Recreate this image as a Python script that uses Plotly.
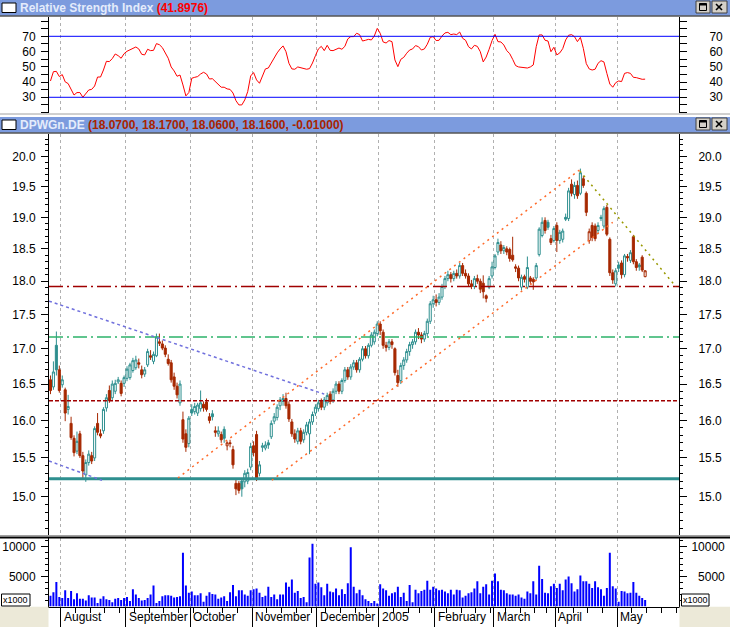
import plotly.graph_objects as go

# ---------------- data ----------------
OPEN = [16.56,16.46,17.05,16.70,16.49,16.42,16.15,15.96,15.76,15.59,
        15.82,15.53,15.28,15.44,15.53,15.50,15.96,15.82,15.86,16.17,
        16.41,16.31,16.40,16.53,16.51,16.51,16.58,16.59,16.69,16.73,
        16.80,16.70,16.64,16.77,16.90,16.82,16.90,17.10,17.07,17.01,
        16.85,16.80,16.60,16.47,16.24,16.01,15.82,15.69,16.15,16.12,
        16.10,16.16,16.22,16.25,16.05,16.09,15.86,15.82,15.81,15.88,
        15.66,15.70,15.61,15.17,15.17,15.20,15.19,15.20,15.38,15.66,
        15.81,15.30,15.64,15.63,15.70,15.78,15.99,16.04,16.20,16.26,
        16.30,16.22,15.98,15.82,15.72,15.86,15.74,15.84,15.82,15.98,
        16.10,16.16,16.26,16.18,16.24,16.36,16.28,16.40,16.50,16.40,
        16.55,16.70,16.60,16.74,16.80,16.70,16.85,17.00,16.90,17.05,
        17.10,17.22,17.36,17.24,17.05,17.02,17.10,17.00,16.62,16.55,
        16.76,16.84,16.96,17.06,17.10,17.24,17.20,17.14,17.22,17.40,
        17.66,17.72,17.68,17.76,17.92,18.04,18.10,18.04,18.12,18.08,
        18.24,18.12,18.08,17.96,17.92,18.04,18.00,17.97,17.78,17.91,
        18.08,18.21,18.45,18.56,18.47,18.50,18.49,18.40,18.22,18.20,
        17.91,18.07,17.91,18.05,18.03,18.05,18.41,18.71,18.95,18.92,
        18.66,18.63,18.87,18.63,18.65,19.00,18.98,19.54,19.37,19.52,
        19.39,19.63,19.39,18.63,18.87,18.86,18.79,19.00,18.86,19.16,
        18.65,18.13,17.96,18.25,18.28,18.10,18.38,18.32,18.69,18.30,
        18.25,18.37,18.07]
HIGH = [16.62,16.82,17.25,16.76,16.62,16.45,16.35,16.05,15.80,15.85,
        15.86,15.58,15.48,15.60,15.58,15.92,16.10,15.88,16.18,16.36,
        16.48,16.55,16.56,16.60,16.55,16.62,16.75,16.80,16.87,16.90,
        16.86,16.76,16.74,17.00,16.98,16.96,17.22,17.22,17.12,17.05,
        16.92,16.84,16.66,16.52,16.55,16.12,15.88,16.06,16.22,16.24,
        16.24,16.41,16.26,16.30,16.10,16.14,15.92,15.92,15.85,15.92,
        15.72,15.74,15.66,15.22,15.20,15.24,15.34,15.36,15.70,15.72,
        15.86,15.46,15.70,15.72,15.74,16.00,16.10,16.22,16.32,16.36,
        16.38,16.26,16.02,15.88,15.90,15.90,15.88,15.98,16.02,16.12,
        16.22,16.28,16.30,16.32,16.38,16.40,16.44,16.54,16.54,16.58,
        16.74,16.74,16.78,16.84,16.84,16.88,17.04,17.04,17.08,17.24,
        17.28,17.40,17.40,17.28,17.10,17.14,17.14,17.02,16.70,16.80,
        16.88,17.00,17.10,17.14,17.28,17.30,17.24,17.26,17.44,17.70,
        17.78,17.80,17.82,17.96,18.08,18.16,18.14,18.16,18.18,18.28,
        18.28,18.18,18.12,18.02,18.08,18.10,18.04,18.09,17.80,18.08,
        18.30,18.42,18.66,18.62,18.56,18.54,18.52,18.69,18.26,18.24,
        18.10,18.10,18.38,18.08,18.06,18.28,18.84,19.00,19.00,18.96,
        18.72,18.86,18.92,18.80,18.82,19.06,19.48,19.62,19.58,19.60,
        19.80,19.68,19.42,18.82,18.92,18.90,18.92,19.04,19.18,19.20,
        18.68,18.18,18.20,18.30,18.32,18.42,18.42,18.48,18.72,18.34,
        18.28,18.40,18.17]
LOW = [16.36,16.42,16.62,16.38,16.45,15.99,16.08,15.74,15.52,15.55,
       15.50,15.24,15.19,15.40,15.42,15.46,15.80,15.76,15.82,16.12,
       16.24,16.28,16.36,16.50,16.33,16.46,16.54,16.56,16.66,16.70,
       16.72,16.58,16.60,16.74,16.84,16.78,16.88,17.04,16.98,16.88,
       16.76,16.52,16.42,16.30,16.20,15.70,15.58,15.64,16.06,16.08,
       16.06,16.12,16.12,16.12,15.96,16.00,15.78,15.78,15.70,15.70,
       15.60,15.64,15.36,15.02,15.04,15.00,15.12,15.16,15.34,15.52,
       15.20,15.26,15.58,15.60,15.62,15.75,15.95,16.00,16.14,16.20,
       16.16,15.98,15.78,15.70,15.68,15.68,15.70,15.80,15.55,15.94,
       16.06,16.12,16.14,16.14,16.20,16.22,16.24,16.36,16.36,16.36,
       16.52,16.56,16.56,16.70,16.66,16.66,16.82,16.86,16.86,17.02,
       17.06,17.18,17.20,17.00,16.96,16.98,17.00,16.62,16.46,16.50,
       16.70,16.80,16.90,17.00,17.06,17.14,17.08,17.10,17.18,17.36,
       17.60,17.62,17.64,17.72,17.88,18.00,17.98,18.00,18.04,18.04,
       18.08,18.04,17.92,17.88,17.88,17.96,17.82,17.74,17.68,17.88,
       18.04,18.18,18.40,18.42,18.42,18.40,18.30,18.30,18.14,18.00,
       17.86,17.98,17.88,17.96,17.87,18.02,18.38,18.68,18.74,18.80,
       18.56,18.60,18.45,18.58,18.60,18.94,18.94,19.34,19.30,19.30,
       19.36,19.48,19.02,18.58,18.62,18.62,18.74,18.94,18.82,18.70,
       18.08,17.96,17.92,18.14,18.04,18.06,18.30,18.28,18.26,18.16,
       18.16,18.14,18.06]
CLOSE = [16.41,16.67,16.70,16.41,16.56,16.10,16.19,15.77,15.57,15.72,
         15.53,15.33,15.44,15.55,15.46,15.89,15.84,15.79,16.15,16.31,
         16.27,16.50,16.51,16.56,16.37,16.59,16.71,16.77,16.83,16.84,
         16.78,16.63,16.70,16.96,16.88,16.92,17.17,17.08,17.01,16.92,
         16.79,16.56,16.47,16.35,16.50,15.75,15.64,16.03,16.10,16.19,
         16.21,16.24,16.17,16.15,16.00,16.05,15.84,15.86,15.74,15.76,
         15.70,15.69,15.41,15.10,15.08,15.10,15.30,15.31,15.65,15.57,
         15.24,15.41,15.66,15.67,15.67,15.96,16.05,16.18,16.28,16.30,
         16.20,16.02,15.82,15.75,15.86,15.72,15.84,15.94,15.98,16.08,
         16.18,16.24,16.18,16.28,16.34,16.26,16.40,16.50,16.40,16.55,
         16.70,16.60,16.74,16.80,16.70,16.85,17.00,16.90,17.05,17.20,
         17.24,17.36,17.26,17.05,17.02,17.10,17.06,16.66,16.52,16.76,
         16.84,16.96,17.06,17.10,17.24,17.20,17.14,17.22,17.40,17.66,
         17.72,17.68,17.76,17.92,18.04,18.10,18.04,18.12,18.08,18.24,
         18.12,18.08,17.96,17.92,18.04,18.00,17.88,17.84,17.74,18.04,
         18.22,18.39,18.60,18.47,18.52,18.45,18.35,18.33,18.20,18.05,
         18.06,18.03,18.21,18.00,17.99,18.24,18.81,18.92,18.79,18.84,
         18.60,18.82,18.63,18.76,18.78,18.97,19.43,19.39,19.52,19.35,
         19.73,19.52,19.08,18.77,18.68,18.66,18.87,18.98,19.14,18.73,
         18.13,18.02,18.16,18.20,18.10,18.39,18.36,18.44,18.30,18.21,
         18.22,18.17,18.16]
RSI = [40.7,46.8,47.0,43.6,44.9,40.1,39.0,34.8,31.5,33.1,
       33.1,30.0,32.2,34.8,35.2,37.4,43.3,43.3,47.9,53.6,
       53.4,55.4,58.4,57.3,55.6,58.6,60.2,61.0,62.1,63.0,
       61.7,58.2,57.8,61.5,60.6,60.8,65.2,64.5,62.6,59.5,
       55.6,49.9,47.3,43.8,44.6,38.1,30.9,33.1,42.5,43.1,
       43.6,45.3,46.4,45.3,42.0,42.2,40.1,38.5,36.6,36.6,
       35.5,35.2,32.8,27.8,25.0,25.0,28.3,33.7,44.0,46.2,
       41.4,39.2,44.4,48.6,49.2,52.5,56.7,59.1,61.7,63.7,
       59.9,52.3,48.6,48.4,49.9,49.5,48.6,48.4,48.8,52.5,
       57.3,61.7,63.4,60.6,64.1,60.8,60.6,61.5,62.3,61.5,
       63.4,68.3,69.8,69.8,72.0,71.1,66.9,67.4,68.0,67.6,
       70.2,75.2,72.0,66.3,65.6,67.2,66.5,54.5,50.1,54.9,
       56.2,58.9,61.0,61.7,63.9,63.2,61.0,61.7,64.8,69.3,
       69.8,67.2,67.4,70.2,72.2,72.6,71.1,71.5,71.1,72.8,
       68.7,67.4,63.2,61.7,64.1,63.4,59.9,53.2,56.4,61.5,
       67.2,71.3,66.5,66.3,64.3,60.6,58.6,54.9,50.8,49.9,
       49.5,49.5,49.2,49.9,51.2,63.2,70.9,70.9,67.4,66.9,
       59.9,62.8,57.8,59.1,61.9,67.6,70.7,71.1,69.8,66.5,
       69.3,62.1,52.1,48.6,47.9,48.4,52.3,54.0,53.2,45.7,
       38.7,36.6,39.6,40.7,40.3,45.7,46.2,45.7,43.1,42.9,
       42.2,41.8,41.9]
VOLUME = [1800,2400,4100,1600,1400,2700,1400,2600,1200,2200,
          1300,1300,1000,1900,1500,1500,600,1300,1700,1200,
          1100,700,1300,1400,1100,1400,1600,900,2900,2000,
          1400,1000,1100,1400,2000,3500,600,900,1700,1900,
          1900,1800,1500,1600,1700,9000,3500,2300,2500,1900,
          1900,2200,800,1800,2400,2100,2000,1300,1500,1700,
          900,2400,3600,1700,2700,2700,2000,1800,2700,2900,
          3000,2300,1600,1800,3300,1600,2000,1200,2000,2000,
          4000,3300,4500,2300,2600,1400,1600,700,8200,10500,
          3800,4000,3200,1900,3800,2500,2400,3000,1900,2900,
          2100,3900,9900,3300,2200,2800,1900,1200,900,600,
          900,500,3700,3000,2700,1800,2200,2400,3300,1600,
          2300,900,3600,700,2800,2200,2600,2800,4300,2800,
          3300,3000,2700,2800,2500,2200,2800,2000,2800,2700,
          1500,1800,2200,2400,3000,4200,2200,3300,3700,2000,
          4300,5500,4200,2800,2700,2200,2000,2000,1800,2000,
          1500,1300,2500,2200,4200,2000,6800,4600,2300,2200,
          3400,3800,3100,3800,2700,4500,5000,3900,2500,2900,
          5200,4200,4200,3800,3100,4200,3200,2900,1800,3100,
          9000,3400,3000,800,2600,2500,2200,2300,4100,2300,
          1800,1400,1100]

# month boundaries (between trading days) and labels
MONTH_BOUNDS = [3.5, 25.5, 47.5, 68.5, 90.5, 111.5, 130.5, 150.5, 171.5, 192.5]
MONTH_LABELS = ["August", "September", "October", "November", "December",
                "2005", "February", "March", "April", "May"]
WEEK_BOUNDS = [3.5, 8.5, 13.5, 18.5, 23.5, 28.5, 33.5, 38.5, 43.5, 48.5, 53.5,
               58.5, 63.5, 68.5, 73.5, 78.5, 83.5, 88.5, 93.5, 98.5, 103.5, 107.5,
               111.5, 116.5, 121.5, 125.5, 129.5, 134.5, 139.5, 144.5, 149.5,
               154.5, 159.5, 164.5, 168.5, 172.5, 177.5, 182.5, 187.5, 192.5,
               197.5, 202.5, 207.5, 212.5]
N_SLOTS = 214

RSI_LEVELS = [70, 30]
RSI_TICKS = [30, 40, 50, 60, 70]
RSI_MINOR = [20, 25, 35, 45, 55, 65, 75, 80]
PRICE_TICKS = [15.0, 15.5, 16.0, 16.5, 17.0, 17.5, 18.0, 18.5, 19.0, 19.5, 20.0]
PRICE_MINOR = [round(14.6 + 0.1 * k, 1) for k in range(58)]
VOL_TICKS = [5000, 10000]
VOL_MINOR = [1000, 2000, 3000, 4000, 6000, 7000, 8000, 9000, 11000]

# horizontal support / resistance levels
H_TEAL = 15.23
H_RED_DASH = 16.27
H_GREEN = 17.17
H_RED_DASHDOT = 17.92
# trend lines: (index, price) endpoints
TL_PURPLE_UP = ([-0.5, 93.0], [17.70, 16.36])
TL_PURPLE_LOW = ([-0.5, 17.5], [15.46, 15.21])
TL_ORANGE_UP = ([43.3, 179.8], [15.24, 19.78])
TL_ORANGE_LOW = ([75.2, 191.0], [15.21, 18.92])
TL_OLIVE = ([179.8, 212.4], [19.76, 17.92])

RSI_HEADER_NAME = "Relative Strength Index"
RSI_HEADER_VAL = "(41.8976)"
PRICE_HEADER_NAME = "DPWGn.DE"
PRICE_HEADER_VAL = "(18.0700, 18.1700, 18.0600, 18.1600, -0.01000)"
VOL_UNIT = "x1000"

# ---------------- figure ----------------
W, H = 730, 627
FONT = "Liberation Sans, Arial, sans-serif"
TEAL = "#2E8F8F"
RED = "#A62800"
HEAD = "#7C9BDE"


def fx(p):
    return p / W


def fy(p):
    return 1 - p / H


idx = list(range(len(CLOSE)))
teal_i = [i for i in idx if i > 0 and CLOSE[i] >= CLOSE[i - 1]]
red_i = [i for i in idx if not (i > 0 and CLOSE[i] >= CLOSE[i - 1])]

fig = go.Figure()

# RSI
fig.add_trace(go.Scatter(x=idx, y=RSI, mode="lines", line=dict(color="#FF0000", width=1),
                         xaxis="x3", yaxis="y", showlegend=False, hoverinfo="skip"))
fig.add_trace(go.Scatter(x=idx, y=RSI, mode="lines", line=dict(width=0), opacity=0,
                         xaxis="x3", yaxis="y4", showlegend=False, hoverinfo="skip"))
for lv in RSI_LEVELS:
    fig.add_trace(go.Scatter(x=[-0.5, N_SLOTS - 0.5], y=[lv, lv], mode="lines",
                             line=dict(color="#0000FF", width=1),
                             xaxis="x3", yaxis="y", showlegend=False, hoverinfo="skip"))


def hline(v, color, dash, width):
    fig.add_trace(go.Scatter(x=[-0.5, N_SLOTS - 0.5], y=[v, v], mode="lines",
                             line=dict(color=color, dash=dash, width=width),
                             xaxis="x2", yaxis="y2", showlegend=False, hoverinfo="skip"))


def tline(tl, color, dash, width):
    fig.add_trace(go.Scatter(x=tl[0], y=tl[1], mode="lines",
                             line=dict(color=color, dash=dash, width=width),
                             xaxis="x2", yaxis="y2", showlegend=False, hoverinfo="skip"))


hline(H_TEAL, "#2E8F8F", "solid", 3)
hline(H_RED_DASH, "#A00000", "4px,2px", 1.5)
hline(H_GREEN, "#2DB36A", "14px,4px,2px,4px", 1.5)
hline(H_RED_DASHDOT, "#A00000", "14px,4px,2px,4px", 1.5)
tline(TL_PURPLE_UP, "#7070DD", "3px,3px", 1.5)
tline(TL_PURPLE_LOW, "#7070DD", "3px,3px", 1.5)
tline(TL_ORANGE_UP, "#FF6A2A", "2px,4px", 1.5)
tline(TL_ORANGE_LOW, "#FF6A2A", "2px,4px", 1.5)
tline(TL_OLIVE, "#999900", "2px,4px", 1.5)


def candles(sel, color):
    fig.add_trace(go.Candlestick(
        x=sel, open=[OPEN[i] for i in sel], high=[HIGH[i] for i in sel],
        low=[LOW[i] for i in sel], close=[CLOSE[i] for i in sel],
        increasing=dict(line=dict(color=color, width=1), fillcolor="#FFFFFF"),
        decreasing=dict(line=dict(color=color, width=1), fillcolor=color),
        whiskerwidth=0, xaxis="x2", yaxis="y2", showlegend=False, hoverinfo="skip"))


candles(teal_i, TEAL)
candles(red_i, RED)
fig.add_trace(go.Scatter(x=idx, y=CLOSE, mode="lines", line=dict(width=0), opacity=0,
                         xaxis="x2", yaxis="y5", showlegend=False, hoverinfo="skip"))

# volume
fig.add_trace(go.Bar(x=idx, y=VOLUME, marker=dict(color="#0000FF", line=dict(width=0)),
                     width=0.68, xaxis="x", yaxis="y3", showlegend=False, hoverinfo="skip"))
fig.add_trace(go.Scatter(x=idx, y=VOLUME, mode="lines", line=dict(width=0), opacity=0,
                         xaxis="x", yaxis="y6", showlegend=False, hoverinfo="skip"))

xdom = [fx(49), fx(679)]
grid = dict(showgrid=True, gridcolor="#B0B0B0", griddash="3px,3px", gridwidth=1)
xcommon = dict(domain=xdom, range=[-0.5, N_SLOTS - 0.5], tickmode="array",
               tickvals=MONTH_BOUNDS, zeroline=False, fixedrange=True,
               rangeslider=dict(visible=False), **grid)

tickfont = dict(family=FONT, size=12, color="#000000")
ycommon = dict(ticks="outside", tickcolor="#000000", tickwidth=1, showline=True,
               linecolor="#000000", linewidth=1, showgrid=False, zeroline=False,
               tickfont=tickfont, fixedrange=True)

rsi_dom = [fy(113), fy(17)]
price_dom = [fy(535), fy(134)]
vol_dom = [fy(606.5), fy(538)]
rsi_range = [19.7, 82.66]
price_range = [1.16202, 1.30937]
vol_range = [0, 11450]


def minor(vals, ln):
    return dict(tickmode="array", tickvals=vals, ticks="outside", ticklen=ln,
                tickcolor="#000000")


fig.update_layout(
    width=W, height=H, margin=dict(l=0, r=0, t=0, b=0),
    paper_bgcolor="#FFFFFF", plot_bgcolor="#FFFFFF", showlegend=False,
    hovermode=False, dragmode=False, boxgap=0.0,
    xaxis=dict(anchor="y3", ticks="outside", ticklen=21, tickcolor="#000000",
               showticklabels=False, showline=True, linecolor="#000000",
               minor=dict(tickmode="array", tickvals=WEEK_BOUNDS, ticks="outside",
                          ticklen=5, tickcolor="#000000", showgrid=False),
               **xcommon),
    xaxis2=dict(anchor="y2", matches="x", ticks="", showticklabels=False,
                showline=False, **xcommon),
    xaxis3=dict(anchor="y", matches="x", ticks="", showticklabels=False,
                showline=False, **xcommon),
    yaxis=dict(domain=rsi_dom, range=rsi_range, anchor="x3", side="left",
               tickmode="array", tickvals=RSI_TICKS, ticklen=7,
               minor=minor(RSI_MINOR, 7), ticklabelstandoff=3, **ycommon),
    yaxis4=dict(domain=rsi_dom, range=rsi_range, anchor="x3", side="right",
                overlaying="y", tickmode="array", tickvals=RSI_TICKS, ticklen=7,
                minor=minor(RSI_MINOR, 7), ticklabelstandoff=20, **ycommon),
    yaxis2=dict(domain=price_dom, range=price_range, type="log", anchor="x2",
                side="left", tickmode="array", tickvals=PRICE_TICKS,
                ticktext=[f"{v:.1f}" for v in PRICE_TICKS], ticklen=7,
                minor=minor(PRICE_MINOR, 3), ticklabelstandoff=3, **ycommon),
    yaxis5=dict(domain=price_dom, range=price_range, type="log", anchor="x2",
                side="right", overlaying="y2", tickmode="array",
                tickvals=PRICE_TICKS, ticktext=[f"{v:.1f}" for v in PRICE_TICKS],
                ticklen=7, minor=minor(PRICE_MINOR, 3), ticklabelstandoff=9,
                **ycommon),
    yaxis3=dict(domain=vol_dom, range=vol_range, anchor="x", side="left",
                tickmode="array", tickvals=VOL_TICKS,
                ticktext=[str(v) for v in VOL_TICKS], ticklen=7,
                minor=minor(VOL_MINOR, 3), ticklabelstandoff=3, **ycommon),
    yaxis6=dict(domain=vol_dom, range=vol_range, anchor="x", side="right",
                overlaying="y3", tickmode="array", tickvals=VOL_TICKS,
                ticktext=["\u00a0\u00a0" + str(VOL_TICKS[0]), str(VOL_TICKS[1])],
                ticklen=7, minor=minor(VOL_MINOR, 3), ticklabelstandoff=2,
                **ycommon),
)

shapes = []


def rect(x0, y0, x1, y1, fill, line=None, lw=1, layer="above"):
    shapes.append(dict(type="rect", xref="paper", yref="paper",
                       x0=fx(x0), x1=fx(x1), y0=fy(y1), y1=fy(y0),
                       fillcolor=fill, line=dict(color=line or fill, width=lw if line else 0),
                       layer=layer))


def seg(x0, y0, x1, y1, color, lw=1):
    shapes.append(dict(type="line", xref="paper", yref="paper",
                       x0=fx(x0), x1=fx(x1), y0=fy(y0), y1=fy(y1),
                       line=dict(color=color, width=lw), layer="above"))


# header bars
for top in (0, 117):
    bot = top + 15.5
    rect(0, top, W, bot, HEAD)
    seg(0, bot + 0.5, W, bot + 0.5, "#000000", 1)
    rect(2, top + 3, 16, top + 12.5, "#FFFFFF", "#000000", 1)
    # window buttons
    rect(696, top + 1, 710, top + 13, "#D4D0C8", "#404040", 1)
    rect(712, top + 1, 727, top + 13, "#D4D0C8", "#404040", 1)
    rect(699.5, top + 3.5, 706.5, top + 10.5, "#D4D0C8", "#000000", 1)
    seg(699.5, top + 4.5, 706.5, top + 4.5, "#000000", 2)
    seg(716, top + 4, 722, top + 10, "#000000", 1.6)
    seg(716, top + 10, 722, top + 4, "#000000", 1.6)

# separators
seg(0, 114, W, 114, "#A0A0A0", 1)
seg(0, 535.5, W, 535.5, "#A0A0A0", 1)
seg(0, 537.5, W, 537.5, "#000000", 2)
# bottom grey corners
rect(0, 606.8, 48.5, H, "#ECE9D8")
rect(679.5, 606.8, W, H, "#ECE9D8")
# unit boxes
rect(1.5, 594, 30, 606, "#FFFFFF", "#000000", 1)
rect(681.5, 594, 709, 606, "#FFFFFF", "#000000", 1)

annotations = [
    dict(xref="paper", yref="paper", x=fx(18), y=fy(8), xanchor="left", yanchor="middle",
         showarrow=False,
         text=f"<b>{RSI_HEADER_NAME} <span style='color:#FF0000'>{RSI_HEADER_VAL}</span></b>",
         font=dict(family=FONT, size=12, color="#E4ECFB")),
    dict(xref="paper", yref="paper", x=fx(18), y=fy(125), xanchor="left", yanchor="middle",
         showarrow=False,
         text=f"<b>{PRICE_HEADER_NAME} <span style='color:#A82400'>{PRICE_HEADER_VAL}</span></b>",
         font=dict(family=FONT, size=12, color="#E4ECFB")),
    dict(xref="paper", yref="paper", x=fx(15.8), y=fy(600), xanchor="center", yanchor="middle",
         showarrow=False, text=VOL_UNIT, font=dict(family=FONT, size=9, color="#000000")),
    dict(xref="paper", yref="paper", x=fx(695.3), y=fy(600), xanchor="center", yanchor="middle",
         showarrow=False, text=VOL_UNIT, font=dict(family=FONT, size=9, color="#000000")),
]
for b, lab in zip(MONTH_BOUNDS, MONTH_LABELS):
    annotations.append(dict(xref="x", yref="paper", x=b, y=fy(617), xanchor="left",
                            yanchor="middle", xshift=1, showarrow=False, text=lab,
                            font=dict(family=FONT, size=12, color="#000000")))

fig.update_layout(shapes=shapes, annotations=annotations)
fig.write_html("out.html", config={"displayModeBar": False, "staticPlot": True},
               post_script="document.body.style.margin='0';document.body.style.padding='0';"
                           "document.body.style.overflow='hidden';")
